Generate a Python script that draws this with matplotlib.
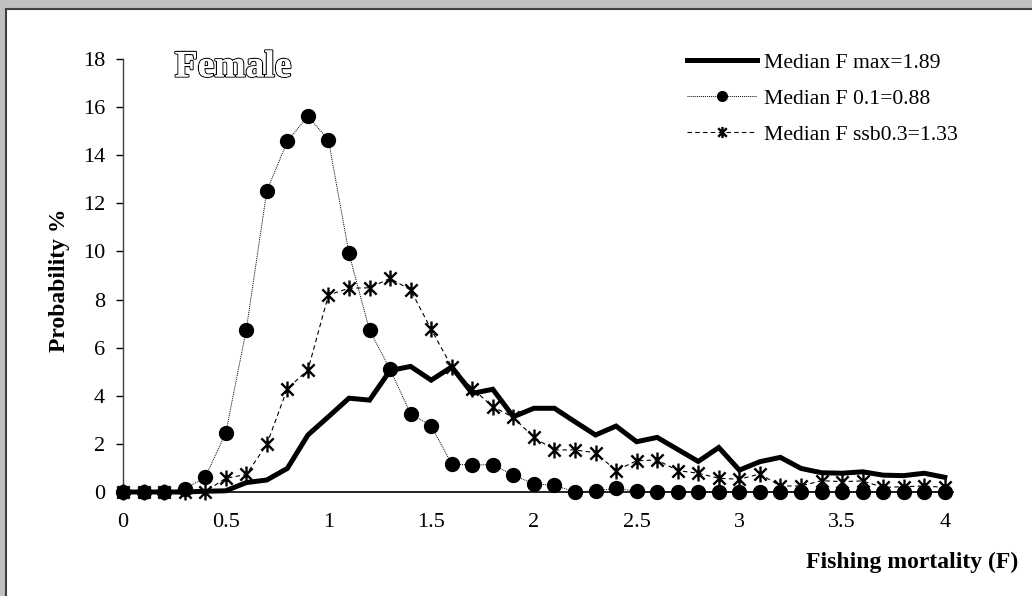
import matplotlib
matplotlib.use("Agg")
import matplotlib.pyplot as plt
import matplotlib.patheffects as pe
from matplotlib.path import Path
from matplotlib.patches import Rectangle
from matplotlib.lines import Line2D

# ---- data ----
F = [round(0.1 * i, 1) for i in range(41)]
fmax = [0, 0, 0, 0, 0.03, 0.05, 0.39, 0.5, 0.98, 2.37, 3.13, 3.9, 3.82, 5.05, 5.22,
        4.65, 5.2, 4.1, 4.27, 3.13, 3.48, 3.48, 2.92, 2.37, 2.74, 2.09, 2.27, 1.77,
        1.27, 1.85, 0.91, 1.26, 1.44, 0.98, 0.8, 0.78, 0.84, 0.7, 0.68, 0.78, 0.61]
f01 = [0, 0, 0, 0.12, 0.61, 2.45, 6.75, 12.52, 14.58, 15.63, 14.63, 9.92, 6.72, 5.1,
       3.25, 2.75, 1.16, 1.12, 1.14, 0.7, 0.34, 0.28, 0, 0.05, 0.15, 0.03,
       0, 0, 0, 0, 0, 0, 0, 0, 0, 0, 0, 0, 0, 0, 0]
fssb = [0, 0, 0, 0, 0.02, 0.57, 0.73, 1.98, 4.3, 5.07, 8.19, 8.47, 8.49, 8.88, 8.4,
        6.76, 5.21, 4.3, 3.55, 3.1, 2.27, 1.75, 1.75, 1.63, 0.89, 1.3, 1.33, 0.89,
        0.78, 0.57, 0.53, 0.75, 0.25, 0.25, 0.47, 0.43, 0.46, 0.19, 0.22, 0.25, 0.19]
labels = ["Median F max=1.89", "Median F 0.1=0.88", "Median F ssb0.3=1.33"]
xticks = [0, 0.5, 1, 1.5, 2, 2.5, 3, 3.5, 4]
xticklabels = ["0", "0.5", "1", "1.5", "2", "2.5", "3", "3.5", "4"]
yticks = list(range(0, 19, 2))

plt.rcParams['font.family'] = ['Liberation Serif', 'DejaVu Serif']

W, H = 1032, 596
fig = plt.figure(figsize=(W / 100, H / 100), dpi=100, facecolor="#c0c0c0")

# white panel with dark inset border
fig.patches.append(Rectangle((6 / W, 0), 1 - 6 / W, (H - 9) / H, transform=fig.transFigure,
                             facecolor="white", edgecolor="none", zorder=-10))
fig.lines.append(Line2D([6 / W, 6 / W], [0, (H - 9) / H], transform=fig.transFigure,
                        color="#404040", lw=1.5, zorder=-5))
fig.lines.append(Line2D([6 / W, 1], [(H - 9) / H, (H - 9) / H], transform=fig.transFigure,
                        color="#404040", lw=1.5, zorder=-5))

ax = fig.add_axes([123 / W, (H - 492) / H, 830 / W, 433 / H])
ax.set_facecolor("none")
ax.set_zorder(1)

# star marker: X plus vertical line
star = Path([(-1, -1), (1, 1), (-1, 1), (1, -1), (0, -1.3), (0, 1.3)],
            [Path.MOVETO, Path.LINETO, Path.MOVETO, Path.LINETO, Path.MOVETO, Path.LINETO])

ax.plot(F, fmax, color="black", lw=3.6, solid_joinstyle="miter", label=labels[0],
        clip_on=False, zorder=3)
ax.plot(F, f01, color="black", lw=0.7, linestyle=(0, (1, 1)), marker="o", markersize=10,
        markerfacecolor="black", markeredgecolor="black", label=labels[1], clip_on=False, zorder=4)
ax.plot(F, fssb, color="black", lw=0.8, linestyle=(0, (4, 3)), marker=star, markersize=11.5,
        markeredgewidth=1.7, markerfacecolor="black", markeredgecolor="black",
        label=labels[2], clip_on=False, zorder=5)

ax.set_xlim(0, 4.04)
ax.set_ylim(0, 18)
ax.set_xticks(xticks)
ax.set_xticklabels(xticklabels)
ax.set_yticks(yticks)
ax.tick_params(axis="x", length=0, pad=15, labelsize=16)
ax.tick_params(axis="y", direction="out", length=5, width=1, pad=8, labelsize=16)
for s in ["top", "right"]:
    ax.spines[s].set_visible(False)
ax.spines["left"].set_color("#404040")
ax.spines["bottom"].set_color("black")
ax.spines["left"].set_linewidth(1)
ax.spines["bottom"].set_linewidth(1.2)

leg = ax.legend(loc="upper left", bbox_to_anchor=(676 / W, 1 - 42 / H), bbox_transform=fig.transFigure,
                frameon=False, fontsize=15.6, handlelength=3.25, handletextpad=0.3,
                labelspacing=0.72, borderpad=0, markerscale=0.7)

fig.text(233 / W, 1 - 67 / H, "Female", fontsize=27, fontweight="bold", color="white",
         ha="center", va="center",
         path_effects=[pe.withStroke(linewidth=1.6, foreground="black"), pe.Normal()])

fig.text(60 / W, 1 - 280 / H, "Probability %", rotation=90, fontsize=17, fontweight="bold",
         ha="center", va="center")
fig.text(1018 / W, 1 - 562 / H, "Fishing mortality (F)", fontsize=17, fontweight="bold",
         ha="right", va="center")

fig.savefig("out.png", dpi=100, facecolor=fig.get_facecolor())
